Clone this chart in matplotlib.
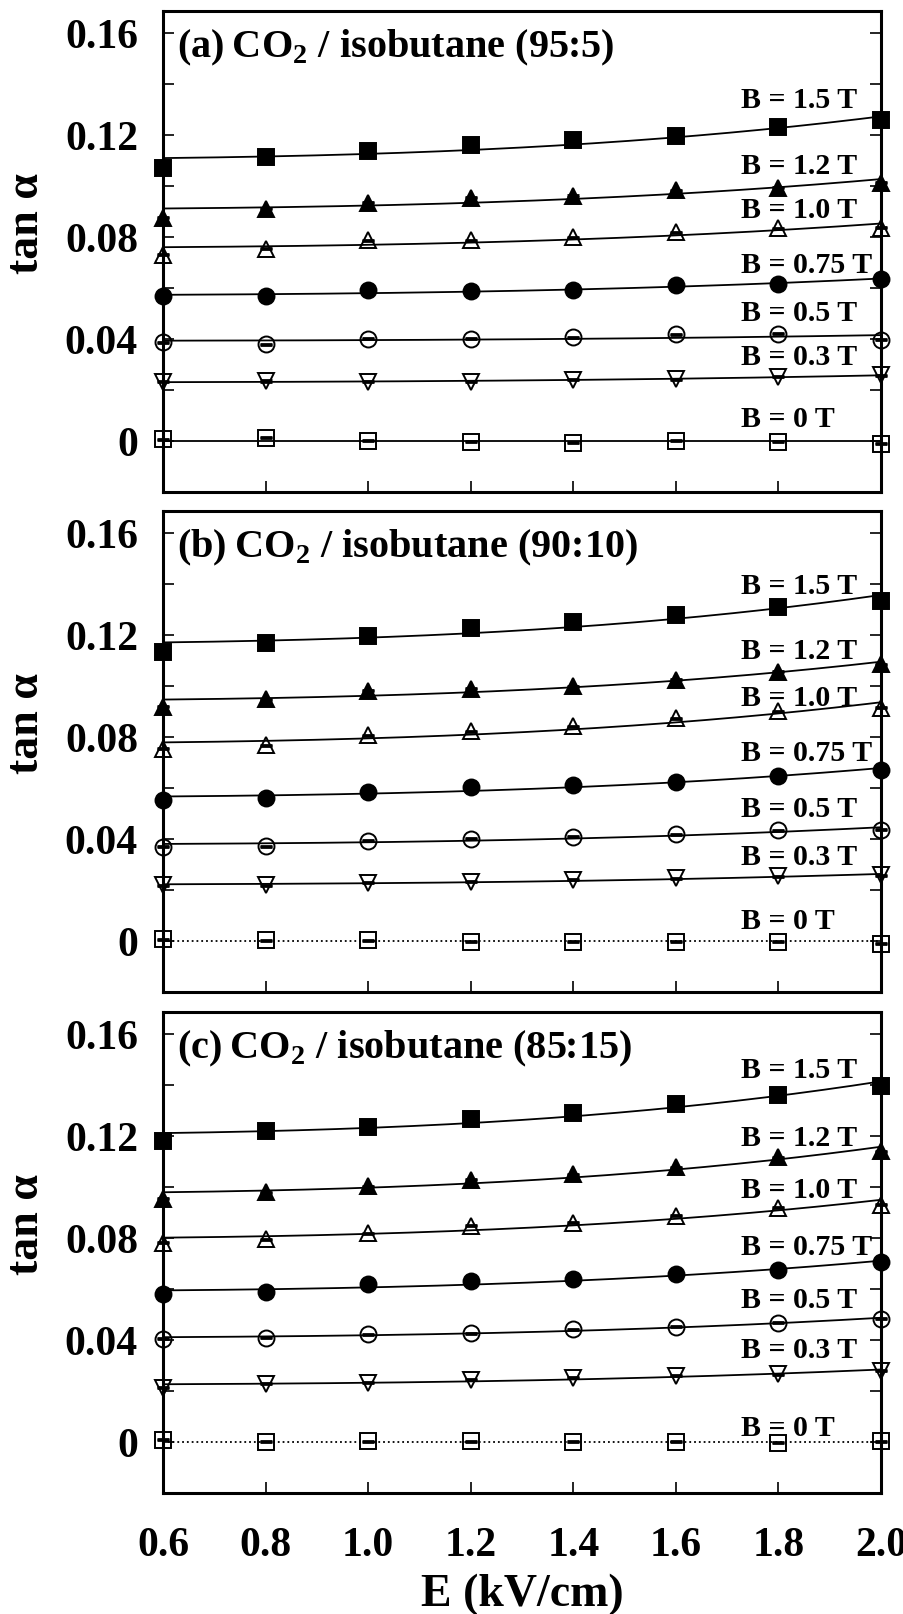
import numpy as np
import matplotlib
matplotlib.use("Agg")
import matplotlib.pyplot as plt

plt.rcParams["font.family"] = ["Liberation Serif", "DejaVu Serif"]
plt.rcParams["font.weight"] = "bold"
plt.rcParams["mathtext.fontset"] = "custom"
plt.rcParams["mathtext.rm"] = "Liberation Serif:bold"
plt.rcParams["mathtext.bf"] = "Liberation Serif:bold"

E = [0.6, 0.8, 1.0, 1.2, 1.4, 1.6, 1.8, 2.0]
b_labels = ["B = 1.5 T", "B = 1.2 T", "B = 1.0 T", "B = 0.75 T",
            "B = 0.5 T", "B = 0.3 T", "B = 0 T"]
mixtures = ["(a)", "(b)", "(c)"]
ratios = ["95:5", "90:10", "85:15"]

# tan(alpha) vs E, rows ordered as b_labels
tan_95_5 = [
    [0.1069, 0.1113, 0.1136, 0.1161, 0.1178, 0.1195, 0.1231, 0.1256],
    [0.0875, 0.0911, 0.0934, 0.0953, 0.0960, 0.0982, 0.0993, 0.1012],
    [0.0730, 0.0754, 0.0787, 0.0786, 0.0799, 0.0818, 0.0833, 0.0835],
    [0.0569, 0.0567, 0.0590, 0.0586, 0.0593, 0.0610, 0.0615, 0.0636],
    [0.0386, 0.0379, 0.0400, 0.0400, 0.0407, 0.0418, 0.0420, 0.0397],
    [0.0232, 0.0235, 0.0232, 0.0232, 0.0239, 0.0241, 0.0252, 0.0258],
    [0.0007, 0.0012, 0.0000, -0.0004, -0.0007, 0.0000, -0.0004, -0.0010],
]
tan_90_10 = [
    [0.1133, 0.1167, 0.1197, 0.1226, 0.1251, 0.1279, 0.1308, 0.1334],
    [0.0917, 0.0947, 0.0980, 0.0989, 0.0998, 0.1023, 0.1056, 0.1085],
    [0.0754, 0.0767, 0.0807, 0.0822, 0.0841, 0.0872, 0.0901, 0.0914],
    [0.0553, 0.0560, 0.0584, 0.0602, 0.0610, 0.0623, 0.0648, 0.0671],
    [0.0370, 0.0372, 0.0393, 0.0400, 0.0409, 0.0418, 0.0433, 0.0435],
    [0.0219, 0.0219, 0.0228, 0.0232, 0.0239, 0.0245, 0.0254, 0.0258],
    [0.0007, 0.0003, 0.0003, -0.0004, -0.0004, -0.0004, -0.0004, -0.0010],
]
tan_85_15 = [
    [0.1178, 0.1217, 0.1236, 0.1264, 0.1290, 0.1326, 0.1360, 0.1396],
    [0.0953, 0.0979, 0.1002, 0.1027, 0.1049, 0.1077, 0.1116, 0.1139],
    [0.0781, 0.0794, 0.0817, 0.0847, 0.0859, 0.0887, 0.0918, 0.0929],
    [0.0579, 0.0587, 0.0618, 0.0629, 0.0638, 0.0657, 0.0672, 0.0707],
    [0.0405, 0.0408, 0.0423, 0.0426, 0.0442, 0.0451, 0.0467, 0.0482],
    [0.0213, 0.0229, 0.0233, 0.0244, 0.0252, 0.0260, 0.0265, 0.0280],
    [0.0008, 0.0000, 0.0003, 0.0003, 0.0000, 0.0000, -0.0003, 0.0003],
]
tan_err = 0.0002

# label heights above each curve, per panel
label_y = [
    [0.134, 0.1078, 0.0908, 0.0691, 0.0504, 0.033, 0.0088],
    [0.1393, 0.1137, 0.0953, 0.0737, 0.0521, 0.033, 0.0081],
    [0.1458, 0.1194, 0.0988, 0.0766, 0.0559, 0.0361, 0.0058],
]

markers = ["s", "^", "^", "o", "o", "v", "s"]
filled = [True, True, False, True, False, False, False]

fig = plt.figure(figsize=(9.04, 16.15), dpi=100)
left, width, height = 163 / 904, 718 / 904, 481 / 1615
tops = [12, 512, 1013]

panels = [tan_95_5, tan_90_10, tan_85_15]
Ex = np.array(E)
Efine = np.linspace(0.6, 2.0, 200)

for p, data in enumerate(panels):
    ax = fig.add_axes([left, 1 - (tops[p] + 481) / 1615, width, height])
    for i, y in enumerate(data):
        y = np.array(y)
        if i == 6:
            # no field: flat line at the mean
            fit = np.full_like(Efine, y.mean())
        else:
            # fit of the form a + b*E^3
            coef = np.polyfit(Ex ** 3, y, 1)
            fit = np.polyval(coef, Efine ** 3)
        ls = ":" if (i == 6 and p > 0) else "-"
        ax.plot(Efine, fit, color="black", lw=1.3, ls=ls, zorder=2)
        fc = "black" if filled[i] else "none"
        ax.errorbar(Ex, y, yerr=tan_err, fmt="none", ecolor="black",
                    capsize=4, capthick=2, elinewidth=1, zorder=3,
                    clip_on=False)
        ax.plot(Ex, y, ls="none", marker=markers[i], ms=11.5, mfc=fc,
                mec="black", mew=1.4, zorder=4, clip_on=False)
        ax.text(1.727, label_y[p][i], b_labels[i], fontsize=21.5,
                fontweight="bold", va="center", ha="left")

    ax.text(0.02, 0.925,
            mixtures[p] + "\u2009" + r"CO$_{2}$ / isobutane (" + ratios[p] + ")",
            transform=ax.transAxes, fontsize=29, fontweight="bold",
            va="center", ha="left")

    ax.set_xlim(0.6, 2.0)
    ax.set_ylim(-0.02, 0.1685)
    ax.set_xticks(E)
    ax.set_yticks([0, 0.04, 0.08, 0.12, 0.16])
    ax.set_yticklabels(["0", "0.04", "0.08", "0.12", "0.16"])
    ax.set_yticks([0.02, 0.06, 0.10, 0.14], minor=True)
    ax.tick_params(axis="both", which="both", direction="in", right=True,
                   length=8, width=1.2)
    ax.tick_params(axis="y", which="major", labelsize=30, pad=18)
    ax.tick_params(axis="x", which="major", labelsize=30, pad=24)
    for lab in ax.get_xticklabels() + ax.get_yticklabels():
        lab.set_fontweight("bold")
    if p < 2:
        ax.set_xticklabels([])
    else:
        ax.set_xticklabels(["%.1f" % e for e in E])
        for lab in ax.get_xticklabels():
            lab.set_fontweight("bold")
        ax.set_xlabel("E (kV/cm)", fontsize=33, fontweight="bold", labelpad=6)
    ax.set_ylabel("tan α", fontsize=33, fontweight="bold")
    ax.yaxis.set_label_coords(-0.16, 0.56)
    for s in ax.spines.values():
        s.set_linewidth(2.2)

fig.savefig("out.png", dpi=100)
